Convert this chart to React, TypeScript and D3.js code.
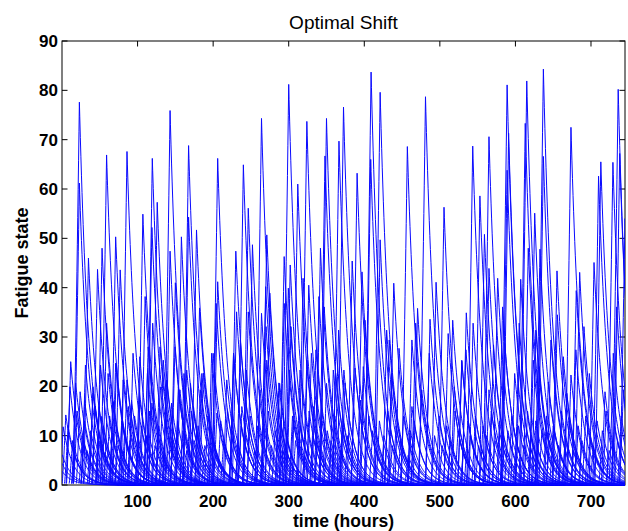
import React from 'react';
import * as d3 from 'd3';

const W = 628;
const H = 531;
const xTicks = [100, 200, 300, 400, 500, 600, 700];
const yTicks = [0, 10, 20, 30, 40, 50, 60, 70, 80, 90];
const xDomain: [number, number] = [0, 745];
const yDomain: [number, number] = [0, 90];

// curves already fatigued at time 0 (start level)
const initialLevels = [6.2, 4.4, 2.8];

// tall peaks [time (h), fatigue]
const tallPeaks: [number, number][] = [
  [23, 77.6], [23, 61.2], [35, 46], [47, 43.7], [53, 48], [59, 66.9], [71, 50.3], [77, 43.6], [86, 67.6],
  [107, 54.9], [119.5, 66.2], [119, 52.2], [126, 57.3], [143, 75.9], [143, 47.4], [150, 41], [158, 50.3],
  [167.5, 68.8], [167.5, 54.3], [178, 51.7], [206, 66.2], [206, 41.2], [230, 47.4], [240, 64.9], [246.5, 56.1],
  [252, 48.7], [264, 74.3], [271, 50.7], [269.5, 40.2], [300, 81.2], [294, 46.3], [302, 44.6], [312, 61],
  [319, 41.9], [324, 73.7], [326.5, 40.5], [342, 48], [348, 66.7], [350, 74.3], [366.5, 69.7], [372.5, 76.6],
  [390.5, 63.2], [384, 45.4], [397, 43.2], [409, 83.7], [408.5, 66], [421, 79.6], [421, 49.7], [439, 40.9],
  [457, 68.6], [481, 78.7], [495, 41.1], [505.5, 56.3], [543.5, 68.7], [553, 58.6], [559, 50.8], [565, 70.6],
  [565, 43.9], [576.5, 41.9], [589, 81.1], [589, 63.8], [591, 71.3], [607, 41.7], [613, 73.3], [615, 81.9],
  [617, 48], [625.5, 55.1], [632.5, 47.8], [637, 84.3], [637, 66.6], [655, 43.4], [673.5, 72.5], [685, 43.1],
  [704, 45.1], [710, 62.6], [713, 65.5], [729, 65.4], [736, 80.2], [738, 67.2], [745, 54],
];

// medium peaks
const midPeaks: [number, number][] = [
  [11.5, 25], [10.5, 19.9], [59, 32.8], [24, 18.9], [110, 38.2], [120, 32.8], [182, 35.9], [187, 22.7],
  [71, 24.7], [41, 18.6], [204, 36.8], [198, 26.7], [231, 35.1], [246.5, 35.1], [275, 38.9], [433, 29.4],
  [463, 29.4], [470.5, 35.8], [487, 33.6], [517, 33.4], [535, 34.9], [529, 25.1], [583, 36.1], [680.5, 39.4],
  [227, 26.7], [236, 29.4], [264, 34.8], [270, 32.1], [287, 20.7], [294, 36.8], [299.5, 39.9], [315, 23.3],
  [303, 32.1], [330, 26.7], [336, 27.4], [340, 38.2], [347, 36.1], [362, 22.7], [366, 31.4], [373, 23.3],
  [374.5, 20.7], [387.7, 23.7], [398.7, 24], [401, 33.4], [395, 17.2], [429.6, 31.4], [436, 22.6], [446, 27.7],
  [463, 15.9], [468, 32.8], [476, 19.3], [486, 26.7], [511, 30.7], [519, 19.9], [529, 25.3], [534.5, 27.4],
  [544, 32.8], [565, 19.3], [571, 28.4], [586, 28.7], [599, 22.6], [605, 32.8], [623.6, 25.3], [627, 31.4],
  [631.6, 24], [643.5, 20.9], [647, 29.4], [655.5, 34.5], [663.4, 26], [668, 18.6], [673.5, 22.3], [680, 27.4],
  [690.7, 32.1], [697.8, 22.6], [718.5, 18.9], [729.5, 26.7], [734, 36.1], [742.8, 19.3],
  [52.5, 13.9], [61, 22.6], [81, 21.3], [88, 15.9], [94, 26.7], [103, 17.2], [113, 22.6], [129.7, 28],
  [138.5, 21.3], [149.5, 28], [156, 19.3], [161.4, 22.6], [170, 20.6], [185, 22.6],
  [18, 20.7], [31, 24.3], [30, 17.2], [41, 19.9], [49, 15.9], [51, 24.3], [72, 24.3], [68, 16.9], [86, 21.3],
  [92, 17.2], [103, 26], [114, 28], [119, 16.6], [130, 19.9], [134, 25.3], [145, 16.6], [154, 19.9],
  [165, 23.3], [174, 15.9], [183, 19.3], [200, 26.7], [205, 14.6], [218, 21.3], [227, 26.7], [238, 15.9],
  [244, 23.3], [262, 19.3], [271, 25.3], [288, 20.6], [301, 23.3], [306, 13.2], [324, 25.3], [333, 15.9],
  [350, 20.6], [359, 23.3], [372, 13.2],
];

// small peaks near the bottom
const smallPeaks: [number, number][] = [
  [1.5, 11.8], [5, 14.2], [8, 12], [14, 9], [17, 6], [20, 15], [27, 10], [30, 13], [33, 7], [38, 11],
  [44, 16], [49, 9], [55, 12], [58, 6], [63, 14], [66, 10], [74, 8], [79, 13], [83, 11], [90, 9], [96, 14],
  [100, 7], [105, 12], [112, 10], [116, 15], [123, 8], [128, 12], [133, 6], [137, 14], [141, 10], [147, 9],
  [153, 13], [160, 11], [165, 7], [171, 15], [175, 9], [180, 12], [189, 8], [193, 14], [199, 10], [203, 6],
  [210, 13], [214, 9], [219, 15], [225, 11], [233, 8], [237, 12], [243, 10], [249, 14], [255, 7], [259, 12],
  [266, 9], [273, 15], [277, 8], [282, 11], [289, 13], [292, 7], [297, 10], [305, 14], [309, 9], [315, 12],
  [321, 6], [327, 15], [332, 10], [338, 8], [344, 13], [351, 11], [356, 9], [361, 14], [368, 7], [371, 12],
  [378, 10], [406, 14], [411, 11], [416, 7], [420, 13], [426, 10], [431, 15], [437, 8], [442, 12], [448, 9],
  [452, 14], [458, 6], [461, 11], [466, 13], [493, 10], [499, 14], [503, 8], [509, 12], [514, 9], [520, 15],
  [524, 11], [531, 7], [537, 13], [540, 10], [547, 14], [551, 8], [557, 12], [562, 10], [568, 15], [573, 9],
  [579, 13], [585, 7], [590, 11], [595, 14], [601, 9], [604, 12], [611, 8], [616, 15], [620, 10], [627, 13],
  [630, 7], [635, 11], [641, 14], [645, 9], [650, 12], [657, 8], [661, 15], [666, 10], [671, 13], [677, 7],
  [683, 12], [688, 9], [693, 14], [699, 10], [703, 8], [708, 13], [715, 11], [720, 15], [724, 7], [731, 12],
  [735, 9], [740, 14],
];

const TAU = 13; // decay time constant (hours)
const BASE = 0.3;

function spike(tp: number, v: number): [number, number][] {
  const R = 4 + v * 0.06;
  const pts: [number, number][] = [];
  const t0 = tp - R;
  for (let i = 0; i <= 16; i++) {
    const f = i / 16;
    pts.push([t0 + f * R, BASE + (v - BASE) * Math.pow(f, 1.25)]);
  }
  const tEnd = Math.min(xDomain[1] + 2, tp + 110);
  for (let t = tp + 0.5; t <= tEnd; t += 0.75) {
    pts.push([t, v * Math.exp(-(t - tp) / TAU)]);
  }
  return pts;
}

function initialCurve(v: number): [number, number][] {
  const pts: [number, number][] = [];
  for (let t = 0; t <= 110; t += 0.75) pts.push([t, v * Math.exp(-t / TAU)]);
  return pts;
}

export default function App() {
  const x = d3.scaleLinear().domain(xDomain).range([62, 625]);
  const y = d3.scaleLinear().domain(yDomain).range([485, 41]);
  const line = d3
    .line<[number, number]>()
    .x((d) => x(d[0]))
    .y((d) => y(d[1]));

  const curves: string[] = [];
  initialLevels.forEach((v) => curves.push(line(initialCurve(v)) || ''));
  [...smallPeaks, ...midPeaks, ...tallPeaks].forEach(([t, v]) => curves.push(line(spike(t, v)) || ''));

  const x0 = x.range()[0];
  const x1 = x.range()[1];
  const y0 = y.range()[0];
  const y1 = y.range()[1];
  const tl = 5.5;
  const font = 'Liberation Sans, Arial, Helvetica, sans-serif';

  return (
    <svg width={W} height={H} style={{ position: 'absolute', left: 0, top: 0, background: '#fff' }}>
      <defs>
        <clipPath id="plot">
          <rect x={x0} y={y1} width={x1 - x0} height={y0 - y1 + 1.5} />
        </clipPath>
      </defs>
      <rect x={0} y={0} width={W} height={H} fill="#fff" />
      <rect x={x0} y={y1} width={x1 - x0} height={y0 - y1} fill="none" stroke="#000" strokeWidth={1} />
      {xTicks.map((t) => (
        <g key={'xt' + t}>
          <line x1={x(t)} x2={x(t)} y1={y0} y2={y0 - tl} stroke="#000" />
          <line x1={x(t)} x2={x(t)} y1={y1} y2={y1 + tl} stroke="#000" />
          <text x={x(t)} y={507} textAnchor="middle" fontFamily={font} fontWeight="bold" fontSize={17}>
            {t}
          </text>
        </g>
      ))}
      {yTicks.map((t) => (
        <g key={'yt' + t}>
          <line x1={x0} x2={x0 + tl} y1={y(t)} y2={y(t)} stroke="#000" />
          <line x1={x1} x2={x1 - tl} y1={y(t)} y2={y(t)} stroke="#000" />
          <text x={58} y={y(t)} dy="0.36em" textAnchor="end" fontFamily={font} fontWeight="bold" fontSize={17}>
            {t}
          </text>
        </g>
      ))}
      <g clipPath="url(#plot)" fill="none" stroke="#0a0aff" strokeWidth={1}>
        {curves.map((d, i) => (
          <path key={i} d={d} />
        ))}
      </g>
      <text x={(x0 + x1) / 2} y={29} textAnchor="middle" fontFamily={font} fontSize={19}>
        Optimal Shift
      </text>
      <text x={(x0 + x1) / 2} y={527} textAnchor="middle" fontFamily={font} fontWeight="bold" fontSize={17.5}>
        time (hours)
      </text>
      <text
        transform={`translate(28,${(y0 + y1) / 2}) rotate(-90)`}
        textAnchor="middle"
        fontFamily={font}
        fontWeight="bold"
        fontSize={18}
      >
        Fatigue state
      </text>
    </svg>
  );
}
